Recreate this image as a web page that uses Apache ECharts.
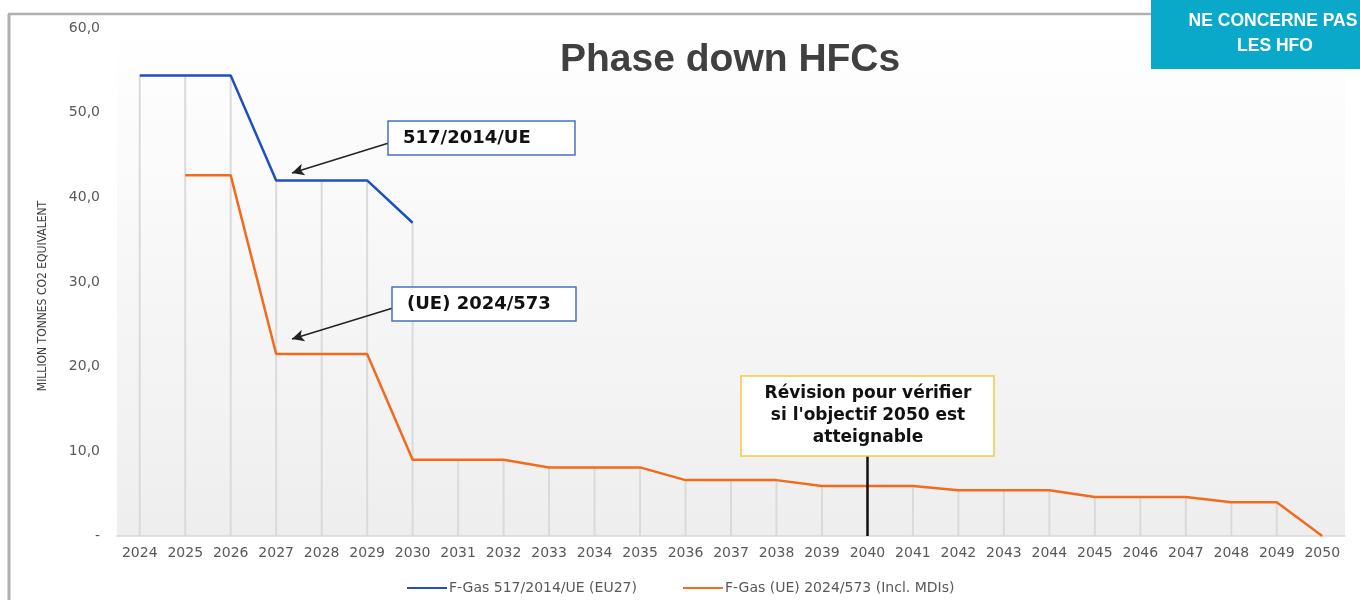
<!DOCTYPE html>
<html lang="fr">
<head>
<meta charset="UTF-8">
<title>Phase down HFCs</title>
<script src="https://cdn.jsdelivr.net/npm/echarts@6/dist/echarts.min.js"></script>
<style>
    html, body { margin: 0; padding: 0; background: #fff; }
    #main { width: 1360px; height: 600px; }
</style>
</head>
<body>
<div id="main"></div>
<script>
    // années
    var years = ['2024', '2025', '2026', '2027', '2028', '2029', '2030', '2031', '2032', '2033',
        '2034', '2035', '2036', '2037', '2038', '2039', '2040', '2041', '2042', '2043',
        '2044', '2045', '2046', '2047', '2048', '2049', '2050'];

    // F-Gas 517/2014/UE (EU27) - Mt CO2 eq
    var fgas2014 = [54.4, 54.4, 54.4, 42.0, 42.0, 42.0, 37.0, null, null, null,
        null, null, null, null, null, null, null, null, null, null,
        null, null, null, null, null, null, null];

    // F-Gas (UE) 2024/573 (Incl. MDIs)
    var fgas2024 = [null, 42.6, 42.6, 21.5, 21.5, 21.5, 9.0, 9.0, 9.0, 8.1,
        8.1, 8.1, 6.6, 6.6, 6.6, 5.9, 5.9, 5.9, 5.4, 5.4,
        5.4, 4.6, 4.6, 4.6, 4.0, 4.0, 0];

    var seriesNames = ['F-Gas 517/2014/UE (EU27)', 'F-Gas (UE) 2024/573 (Incl. MDIs)'];
    var yMax = 60, yStep = 10;
    var reviewYear = '2040';

    // lignes verticales : du plus haut point jusqu'à l'axe
    var dropLines = [];
    for (var i = 0; i < years.length; i++) {
        var a = fgas2014[i] == null ? 0 : fgas2014[i];
        var b = fgas2024[i] == null ? 0 : fgas2024[i];
        dropLines.push(Math.max(a, b));
    }

    var myChart = echarts.init(document.getElementById('main'));

    var option = {
        backgroundColor: '#ffffff',
        animation: false,
        title: {
            text: 'Phase down HFCs',
            left: 555,
            top: 36,
            textStyle: {
                fontFamily: 'Liberation Sans',
                fontWeight: 'bold',
                fontSize: 39,
                color: '#404040'
            }
        },
        legend: {
            data: seriesNames,
            left: 402,
            top: 576,
            icon: 'rect',
            itemWidth: 40,
            itemHeight: 2,
            itemGap: 46,
            textStyle: {
                fontFamily: 'DejaVu Sans',
                fontSize: 14,
                color: '#595959',
                padding: [0, 0, 0, -3]
            }
        },
        grid: {
            left: 117,
            right: 15,
            top: 28,
            bottom: 64,
            show: true,
            borderWidth: 0,
            backgroundColor: new echarts.graphic.LinearGradient(0, 0, 0, 1, [
                {offset: 0, color: '#ffffff'},
                {offset: 1, color: '#eeeeee'}
            ])
        },
        xAxis: {
            type: 'category',
            data: years,
            boundaryGap: true,
            axisLine: {lineStyle: {color: '#d9d9d9', width: 1.5}},
            axisTick: {show: false},
            axisLabel: {
                interval: 0,
                margin: 10,
                fontFamily: 'DejaVu Sans',
                fontSize: 14,
                color: '#595959'
            },
            splitLine: {show: false}
        },
        yAxis: {
            type: 'value',
            min: 0,
            max: yMax,
            interval: yStep,
            name: 'MILLION TONNES CO2 EQUIVALENT',
            nameLocation: 'middle',
            nameRotate: 90,
            nameGap: 68,
            nameTextStyle: {
                fontFamily: 'DejaVu Sans Condensed',
                fontSize: 12,
                color: '#404040',
                padding: [0, 28, 0, 0]
            },
            axisLine: {show: false},
            axisTick: {show: false},
            splitLine: {show: false},
            axisLabel: {
                margin: 17,
                fontFamily: 'DejaVu Sans',
                fontSize: 14,
                color: '#595959',
                formatter: function (v) {
                    return v === 0 ? '-' : v.toFixed(1).replace('.', ',');
                }
            }
        },
        series: [
            {
                name: 'drop',
                type: 'bar',
                data: dropLines,
                barWidth: 2,
                silent: true,
                z: 1,
                itemStyle: {color: '#dadada'}
            },
            {
                name: seriesNames[0],
                type: 'line',
                data: fgas2014,
                symbol: 'none',
                z: 3,
                lineStyle: {color: '#1f4fc1', width: 2.5},
                itemStyle: {color: '#1f4fc1'},
                markLine: {
                    silent: true,
                    symbol: ['none', 'arrow'],
                    symbolSize: [9, 12],
                    label: {show: false},
                    lineStyle: {color: '#222222', width: 1.5, type: 'solid'},
                    data: [
                        [{x: 392, y: 142}, {x: 292, y: 173}],
                        [{x: 393, y: 308}, {x: 292, y: 339}]
                    ]
                }
            },
            {
                name: seriesNames[1],
                type: 'line',
                data: fgas2024,
                symbol: 'none',
                z: 3,
                lineStyle: {color: '#f26b1d', width: 2.5},
                itemStyle: {color: '#f26b1d'},
                markLine: {
                    silent: true,
                    symbol: ['none', 'none'],
                    label: {show: false},
                    lineStyle: {color: '#111111', width: 2.5, type: 'solid'},
                    data: [
                        [{coord: [reviewYear, 0]}, {coord: [reviewYear, 9.45]}]
                    ]
                }
            }
        ],
        graphic: [
            // cadre
            {type: 'line', shape: {x1: 8, y1: 14, x2: 1151, y2: 14}, style: {stroke: '#b0b0b0', lineWidth: 2.5}},
            {type: 'line', shape: {x1: 9, y1: 14, x2: 9, y2: 600}, style: {stroke: '#b0b0b0', lineWidth: 3}},
            // pastille
            {type: 'rect', shape: {x: 1151, y: 0, width: 209, height: 69}, style: {fill: '#0aa9c9'}},
            {type: 'text', x: 1273, y: 21, style: {
                text: 'NE CONCERNE PAS', align: 'center', verticalAlign: 'middle',
                fill: '#ffffff', font: 'bold 17.5px "Liberation Sans"'}},
            {type: 'text', x: 1275, y: 46, style: {
                text: 'LES HFO', align: 'center', verticalAlign: 'middle',
                fill: '#ffffff', font: 'bold 17.5px "Liberation Sans"'}},
            // encadrés
            {type: 'rect', z: 10, shape: {x: 388, y: 121, width: 187, height: 34},
                style: {fill: '#ffffff', stroke: '#4472c4', lineWidth: 1.5}},
            {type: 'text', z: 11, x: 403, y: 138, style: {
                text: '517/2014/UE', verticalAlign: 'middle',
                fill: '#111111', font: 'bold 18px "DejaVu Sans"'}},
            {type: 'rect', z: 10, shape: {x: 392, y: 287, width: 184, height: 34},
                style: {fill: '#ffffff', stroke: '#4472c4', lineWidth: 1.5}},
            {type: 'text', z: 11, x: 407, y: 304, style: {
                text: '(UE) 2024/573', verticalAlign: 'middle',
                fill: '#111111', font: 'bold 18px "DejaVu Sans"'}},
            {type: 'rect', z: 10, shape: {x: 741, y: 376, width: 253, height: 80},
                style: {fill: '#ffffff', stroke: '#f7c843', lineWidth: 1.5}},
            {type: 'text', z: 11, x: 868, y: 416, style: {
                text: 'Révision pour vérifier\nsi l\'objectif 2050 est\natteignable',
                align: 'center', verticalAlign: 'middle', lineHeight: 22,
                fill: '#111111', font: 'bold 17px "DejaVu Sans"'}}
        ]
    };

    myChart.setOption(option);
</script>
</body>
</html>
